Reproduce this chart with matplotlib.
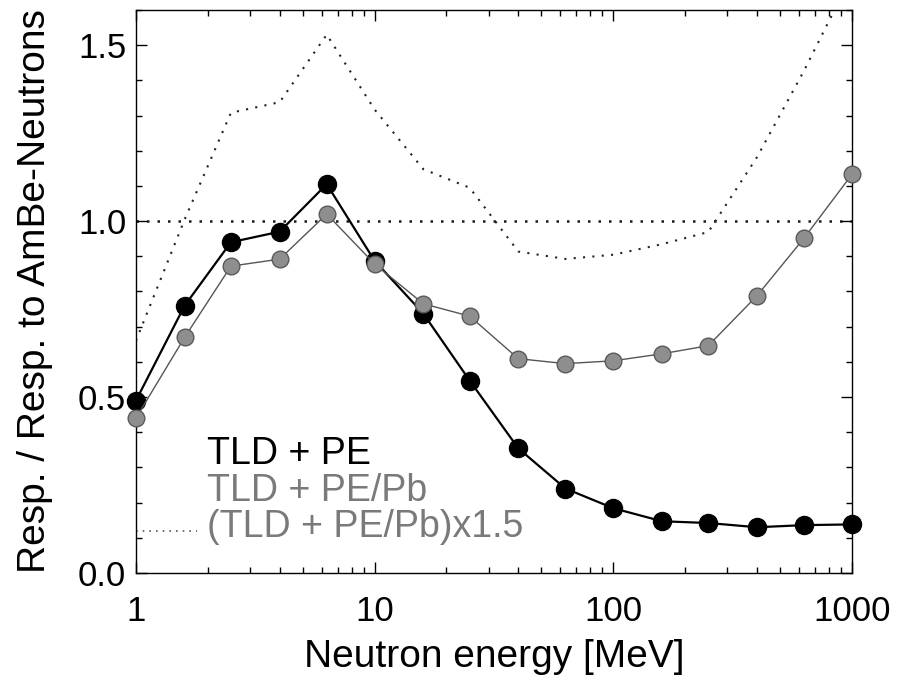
import matplotlib.pyplot as plt
import matplotlib.ticker as mticker
import numpy as np

plt.rcParams['font.family'] = ['Liberation Sans', 'DejaVu Sans']

# neutron energies [MeV]
energy = [1, 1.6, 2.5, 4, 6.3, 10, 16, 25, 40, 63, 100, 160, 250, 400, 630, 1000]
# response relative to AmBe
resp_pe = [0.49, 0.76, 0.94, 0.97, 1.105, 0.887, 0.737, 0.547, 0.354, 0.24,
           0.184, 0.147, 0.142, 0.13, 0.136, 0.138]
resp_pepb = [0.44, 0.67, 0.872, 0.892, 1.02, 0.878, 0.765, 0.73, 0.609, 0.595,
             0.603, 0.623, 0.646, 0.788, 0.952, 1.133]
scale_pepb = 1.5

labels = ['TLD + PE', 'TLD + PE/Pb', '(TLD + PE/Pb)x1.5']
gray = '#7a7a7a'

fig = plt.figure(figsize=(8.98, 6.76), dpi=100)
ax = fig.add_axes([0.1514, 0.1524, 0.7974, 0.8328])

ax.axhline(1.0, color='#1a1a1a', lw=1.8, ls=(0, (1, 3.2)), zorder=1)
ax.plot(energy, np.array(resp_pepb) * scale_pepb, color='#222222', lw=1.5,
        ls=(0, (1, 3.5)), zorder=1)
ax.plot(energy, resp_pe, color='black', lw=1.6, marker='o', ms=13,
        mfc='black', mec='black', zorder=3, clip_on=False)
ax.plot(energy, resp_pepb, color='#555555', lw=1.0, marker='o', ms=12,
        mfc='#8e8e8e', mec='#5a5a5a', mew=1.0, zorder=4, clip_on=False)

ax.set_xscale('log')
ax.set_xlim(1, 1000)
ax.set_ylim(0, 1.6)
ax.xaxis.set_major_locator(mticker.FixedLocator([1, 10, 100, 1000]))
ax.xaxis.set_major_formatter(mticker.FixedFormatter(['1', '10', '100', '1000']))
ax.xaxis.set_minor_locator(mticker.LogLocator(base=10, subs=np.arange(2, 10)))
ax.xaxis.set_minor_formatter(mticker.NullFormatter())
ax.yaxis.set_major_locator(mticker.MultipleLocator(0.5))
ax.yaxis.set_major_formatter(mticker.FormatStrFormatter('%.1f'))
ax.yaxis.set_minor_locator(mticker.MultipleLocator(0.1))

ax.tick_params(which='both', direction='in', top=True, right=True, width=1.0)
ax.tick_params(which='major', length=8)
ax.tick_params(which='minor', length=4)
ax.tick_params(axis='x', which='major', labelsize=25, pad=16)
ax.tick_params(axis='y', which='major', labelsize=25, pad=7)
for spine in ax.spines.values():
    spine.set_linewidth(1.0)

fig.canvas.draw()
ax.get_yticklabels()[0].set_va('bottom')

ax.set_xlabel('Neutron energy [MeV]', fontsize=28, labelpad=8)
ax.set_ylabel('Resp. / Resp. to AmBe-Neutrons', fontsize=28, labelpad=18)

# legend written as stacked text lines
ax.text(0.099, 0.212, labels[0], transform=ax.transAxes, fontsize=27,
        color='black', va='center')
ax.text(0.099, 0.146, labels[1], transform=ax.transAxes, fontsize=27,
        color=gray, va='center')
ax.text(0.099, 0.082, labels[2], transform=ax.transAxes, fontsize=27,
        color=gray, va='center')
ax.plot([0.0, 0.085], [0.074, 0.074], transform=ax.transAxes,
        color='#555555', lw=1.2, ls=(0, (1, 3)))

fig.savefig('out.png', dpi=100)
